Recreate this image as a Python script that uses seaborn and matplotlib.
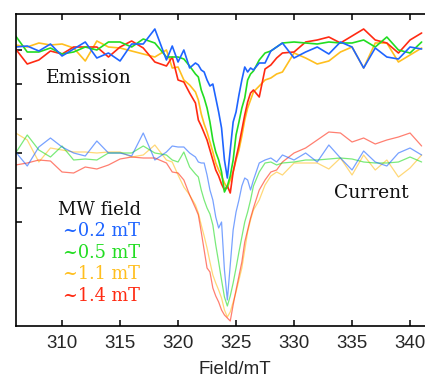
import numpy as np
import pandas as pd
import matplotlib
matplotlib.use("Agg")
import matplotlib.pyplot as plt
import seaborn as sns

# Magnetic field grid (mT): coarse in the wings, finer across the resonance
field = ([306, 307, 308, 309, 310, 311, 312, 313, 314, 315, 316, 317, 318, 319,
          319.5, 320, 320.5, 321, 321.5,
          321.75, 322, 322.25, 322.5, 322.75, 323, 323.25, 323.5, 323.75, 324,
          324.25, 324.5, 324.75, 325, 325.25, 325.5, 325.75, 326, 326.25, 326.5,
          327, 327.5, 328, 328.5,
          329, 330, 331, 332, 333, 334, 335, 336, 337, 338, 339, 340, 341])

mw_labels = ["~0.2 mT", "~0.5 mT", "~1.1 mT", "~1.4 mT"]

# Emission signal (arb. units, vertically offset)
emission_02 = [279, 280, 275, 282, 270, 277, 284, 268, 273, 265, 282, 282, 297, 266,
               280, 264, 276, 258, 263,
               261, 256, 254, 246, 240, 242, 228, 214, 198, 166, 148, 176, 204, 214, 231, 246, 259, 254, 258, 256,
               263, 263, 275, 279,
               283, 268, 274, 279, 272, 284, 279, 258, 278, 269, 267, 279, 277]
emission_05 = [290, 274, 274, 278, 272, 274, 279, 276, 284, 284, 279, 287, 283, 269,
               269, 269, 267, 260, 252,
               249, 236, 228, 218, 204, 186, 174, 166, 154, 134, 140, 150, 166, 191, 204, 218, 228, 246, 252, 255,
               266, 273, 275, 279,
               283, 284, 283, 282, 284, 283, 283, 286, 279, 289, 276, 273, 284]
emission_11 = [281, 279, 283, 281, 282, 278, 265, 285, 279, 278, 275, 272, 269, 276,
               258, 259, 246, 241, 234,
               226, 212, 202, 194, 184, 174, 163, 156, 150, 143, 138, 146, 154, 166, 176, 190, 206, 218, 226, 234,
               240, 246, 248, 252,
               254, 273, 268, 262, 265, 274, 279, 258, 283, 283, 264, 271, 278]
emission_14 = [277, 262, 266, 275, 272, 279, 279, 279, 269, 279, 285, 278, 264, 260,
               269, 246, 244, 233, 223,
               206, 200, 193, 186, 176, 166, 156, 150, 142, 136, 140, 133, 154, 168, 181, 196, 211, 224, 233, 236,
               229, 257, 261, 268,
               273, 274, 284, 286, 289, 283, 290, 297, 286, 283, 273, 286, 293]

# Current signal (arb. units)
current_02 = [174, 160, 179, 188, 179, 173, 170, 185, 173, 173, 170, 193, 166, 174,
              180, 179, 179, 173, 169,
              164, 163, 163, 151, 136, 126, 109, 98, 104, 56, 26, 61, 96, 114, 126, 140, 148, 146, 136, 146,
              163, 166, 168, 164,
              171, 166, 173, 164, 181, 168, 156, 175, 164, 160, 173, 178, 171]
current_05 = [173, 191, 176, 169, 180, 166, 167, 166, 173, 173, 173, 180, 173, 171,
              166, 164, 174, 159, 152,
              149, 136, 126, 118, 112, 101, 81, 64, 46, 29, 20, 30, 43, 58, 74, 89, 104, 114, 126, 140,
              154, 163, 164, 161,
              163, 164, 166, 166, 167, 168, 167, 164, 163, 163, 164, 169, 164]
current_11 = [193, 186, 164, 178, 176, 174, 174, 173, 174, 174, 169, 171, 181, 166,
              164, 151, 139, 131, 121,
              113, 101, 90, 78, 64, 51, 43, 36, 28, 16, 9, 14, 24, 34, 46, 58, 76, 94, 106, 116,
              126, 141, 150, 154,
              151, 163, 163, 163, 157, 168, 151, 171, 156, 166, 149, 158, 171]
current_14 = [161, 163, 166, 165, 154, 153, 159, 157, 161, 167, 169, 168, 168, 163,
              154, 153, 146, 131, 118,
              111, 94, 76, 58, 54, 38, 30, 24, 16, 11, 8, 5, 21, 36, 50, 64, 84, 96, 108, 118,
              136, 146, 154, 156,
              164, 173, 178, 186, 194, 193, 184, 188, 182, 186, 189, 193, 180]

colors = {"~0.2 mT": "#1e64ff", "~0.5 mT": "#22dd22",
          "~1.1 mT": "#ffbf1f", "~1.4 mT": "#ff2a12"}


def long_frame(series):
    rows = []
    for lab, vals in zip(mw_labels, series):
        rows.append(pd.DataFrame({"Field": field, "Signal": vals, "MW": lab}))
    return pd.concat(rows, ignore_index=True)


df_em = long_frame([emission_02, emission_05, emission_11, emission_14])
df_cur = long_frame([current_02, current_05, current_11, current_14])

sns.set_style("ticks")
plt.rcParams["font.family"] = ["Liberation Sans", "DejaVu Sans"]

fig = plt.figure(figsize=(4.25, 3.77), dpi=100)
ax = fig.add_axes([16 / 425, 51 / 377, 409 / 425, 312 / 377])

draw_order = ["~1.1 mT", "~1.4 mT", "~0.5 mT", "~0.2 mT"]
sns.lineplot(data=df_cur, x="Field", y="Signal", hue="MW", hue_order=draw_order,
             palette=colors, estimator=None, sort=False, legend=False,
             lw=0.9, alpha=0.6, ax=ax)
sns.lineplot(data=df_em, x="Field", y="Signal", hue="MW", hue_order=draw_order,
             palette=colors, estimator=None, sort=False, legend=False,
             lw=1.2, ax=ax)

ax.set_xlim(306.03, 341.29)
ax.set_ylim(0, 312)
ax.set_xticks([310, 315, 320, 325, 330, 335, 340])
ax.set_yticks(np.linspace(104, 276, 6))
ax.set_yticklabels([])
ax.set_ylabel("")
ax.tick_params(axis="both", direction="in", length=4.5, width=1.1, color="black",
               labelsize=13.5, pad=6.5, top=True, labeltop=False)
ax.tick_params(axis="y", right=False)
for side in ["left", "bottom", "top"]:
    ax.spines[side].set_linewidth(1.2)
    ax.spines[side].set_color("black")
    ax.spines[side].set_visible(True)
ax.spines["right"].set_visible(False)

ax.set_xlabel("Field/mT", fontsize=13.5)
ax.xaxis.set_label_coords(0.5355, -0.112)

serif = ["DejaVu Serif"]
ax.text(308.62, 243, "Emission", fontsize=13.5, family=serif, va="baseline", color="#111111")
ax.text(333.45, 128, "Current", fontsize=13.5, family=serif, va="baseline", color="#111111")
ax.text(309.66, 111, "MW field", fontsize=13, family=serif, va="baseline", color="#111111")
for lab, yv in zip(mw_labels, [90, 68, 47, 25]):
    ax.text(310.09, yv, lab, fontsize=12.8, family=serif, va="baseline", color=colors[lab])

fig.savefig("out.png", dpi=100)
